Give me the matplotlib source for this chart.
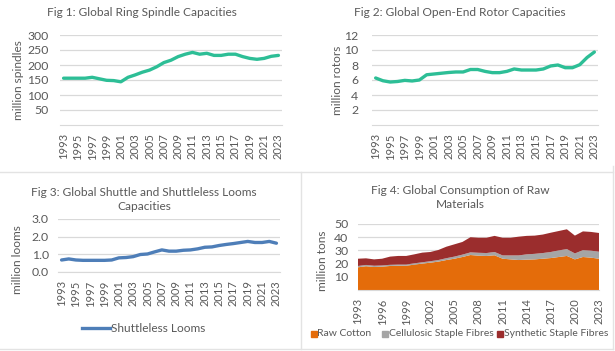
import matplotlib
matplotlib.use("Agg")
import matplotlib.pyplot as plt
from matplotlib.lines import Line2D
from matplotlib.patches import Rectangle

years = list(range(1993, 2024))

ring_spindles = [156, 156, 156, 156, 159, 154, 149, 148, 144, 159, 167, 176, 183, 194,
                 208, 216, 228, 236, 242, 236, 239, 232, 232, 236, 236, 228, 222, 219,
                 222, 229, 232]
rotors = [6.27, 5.9, 5.73, 5.8, 5.95, 5.87, 6.0, 6.7, 6.8, 6.9, 7.0, 7.07, 7.07, 7.4,
          7.4, 7.15, 6.98, 6.98, 7.15, 7.47, 7.33, 7.33, 7.33, 7.47, 7.87, 8.0, 7.64,
          7.64, 8.04, 9.0, 9.73]
shuttleless = [0.68, 0.74, 0.68, 0.66, 0.66, 0.66, 0.66, 0.68, 0.80, 0.82, 0.87, 0.99,
               1.02, 1.14, 1.25, 1.18, 1.18, 1.23, 1.25, 1.31, 1.40, 1.42, 1.50, 1.56,
               1.61, 1.67, 1.73, 1.67, 1.67, 1.73, 1.63]
raw_cotton = [17.2, 18.0, 17.4, 17.7, 18.2, 18.4, 18.4, 19.2, 20.0, 20.7, 21.5, 22.7,
              23.7, 25.0, 26.5, 26.0, 25.8, 26.3, 23.7, 23.2, 22.7, 23.0, 23.2, 23.7,
              24.2, 25.0, 25.8, 23.2, 25.0, 24.5, 23.7]
cellulosic = [1.0, 1.0, 1.0, 0.9, 0.9, 0.9, 0.9, 1.0, 1.0, 1.1, 1.2, 1.4, 1.6, 1.8,
              2.0, 2.2, 2.2, 2.5, 2.5, 3.0, 3.5, 4.0, 4.2, 4.3, 4.6, 5.0, 5.2, 4.5,
              5.2, 5.3, 5.3]
total_fibres = [23.7, 24.0, 23.2, 23.7, 25.3, 25.8, 25.8, 27.0, 28.3, 28.8, 30.3, 32.8,
                34.6, 36.4, 40.0, 39.6, 39.6, 41.0, 39.6, 39.6, 40.4, 41.0, 41.2, 42.0,
                43.4, 44.7, 46.0, 41.2, 44.4, 44.0, 43.2]
synthetic = [round(t - c - s, 2) for t, c, s in zip(total_fibres, raw_cotton, cellulosic)]
fibre_labels = ['Raw Cotton', 'Cellulosic Staple Fibres', 'Synthetic Staple Fibres']
fibre_colors = ['#E46C0A', '#A5A5A5', '#9B2D2D']

W, H = 615, 351
plt.rcParams['font.family'] = ['Lato', 'DejaVu Sans']
TXT = '#595959'
GRID = '#D9D9D9'
TITLE_FS = 8.6
TICK_FS = 8.0
YTICK_FS = 8.8
YLAB_FS = 8.6

fig = plt.figure(figsize=(W / 100, H / 100), dpi=100)


def fx(x):
    return x / W


def fy(y):
    return 1 - y / H


def add_ax(l, t, r, b):
    return fig.add_axes([l / W, 1 - b / H, (r - l) / W, (b - t) / H])


def style(ax, ylim, yticks, yfmt, xticks, xlabels, ylabel, pady):
    ax.set_ylim(*ylim)
    ax.set_yticks(yticks)
    ax.set_yticklabels([yfmt.format(v) for v in yticks])
    ax.set_xticks(xticks)
    ax.set_xticklabels(xlabels, rotation=90)
    ax.grid(axis='y', color=GRID, lw=0.9)
    ax.set_axisbelow(True)
    for s in ['top', 'right', 'left']:
        ax.spines[s].set_visible(False)
    ax.spines['bottom'].set_color(GRID)
    ax.tick_params(length=0, colors=TXT)
    ax.tick_params(axis='x', labelsize=TICK_FS, pad=6)
    ax.tick_params(axis='y', labelsize=YTICK_FS, pad=pady)
    ax.set_ylabel(ylabel, color=TXT, fontsize=YLAB_FS)


idx = list(range(len(years)))
two = idx[::2]
two_lab = [str(years[i]) for i in two]

# Fig 1
ax1 = add_ax(60, 35, 282, 125)
ax1.plot(idx, ring_spindles, color='#2DBE96', lw=2.4, solid_capstyle='round')
ax1.set_xlim(-0.5, len(years) - 0.5)
style(ax1, (0, 300), [50, 100, 150, 200, 250, 300], '{:d}', two, two_lab, 'million spindles', 8)
ax1.yaxis.set_label_coords(-36 / 222, 0.5)
fig.text(fx(142), fy(12), 'Fig 1: Global Ring Spindle Capacities', ha='center', va='center',
         color=TXT, fontsize=TITLE_FS)

# Fig 2
ax2 = add_ax(372, 35, 598, 125)
ax2.plot(idx, rotors, color='#2DBE96', lw=2.4, solid_capstyle='round')
ax2.set_xlim(-0.5, len(years) - 0.5)
style(ax2, (0, 12), [2, 4, 6, 8, 10, 12], '{:d}', two, two_lab, 'million rotors', 10)
ax2.yaxis.set_label_coords(-29 / 226, 0.5)
fig.text(fx(460), fy(12), 'Fig 2: Global Open-End Rotor Capacities', ha='center', va='center',
         color=TXT, fontsize=TITLE_FS)

# Fig 3
ax3 = add_ax(58, 219, 280, 272)
ax3.plot(idx, shuttleless, color='#4E7EB8', lw=2.4, solid_capstyle='round')
ax3.set_xlim(-0.5, len(years) - 0.5)
style(ax3, (0, 3), [0, 1, 2, 3], '{:.1f}', two, two_lab, 'million looms', 6.5)
ax3.yaxis.set_label_coords(-35 / 222, 0.23)
fig.text(fx(144), fy(199.5), 'Fig 3: Global Shuttle and Shuttleless Looms\nCapacities', ha='center',
         va='center', color=TXT, fontsize=TITLE_FS, linespacing=1.3)
fig.add_artist(Line2D([fx(82), fx(110)], [fy(328)] * 2, color='#4E7EB8', lw=2.4))
fig.text(fx(111), fy(328), 'Shuttleless Looms', ha='left', va='center', color=TXT, fontsize=8.6)

# Fig 4
ax4 = add_ax(358, 224, 599, 290)
ax4.stackplot(idx, raw_cotton, cellulosic, synthetic, colors=fibre_colors, labels=fibre_labels)
ax4.set_xlim(0, len(years) - 1)
three = idx[::3]
style(ax4, (0, 50), [10, 20, 30, 40, 50], '{:d}', three, [str(years[i]) for i in three],
      'million tons', 7)
ax4.yaxis.set_label_coords(-30 / 241, 0.44)
fig.text(fx(460), fy(197.5), 'Fig 4: Global Consumption of Raw\nMaterials', ha='center',
         va='center', color=TXT, fontsize=TITLE_FS, linespacing=1.3)
for xs, xt, lab, col in zip([311, 382, 497], [317, 389, 504], fibre_labels, fibre_colors):
    fig.add_artist(Rectangle((fx(xs), fy(336.5)), 6 / W, 6 / H, color=col))
    fig.text(fx(xt), fy(334), lab, ha='left', va='center', color=TXT, fontsize=7.5)

# panel borders
bc = '#E3E3E3'
fig.add_artist(Line2D([0, fx(613)], [fy(172)] * 2, color=bc, lw=1))
fig.add_artist(Line2D([0, fx(613)], [fy(349)] * 2, color=bc, lw=1))
fig.add_artist(Line2D([fx(301)] * 2, [fy(172), fy(349)], color=bc, lw=1))
fig.add_artist(Line2D([fx(613)] * 2, [fy(166), fy(349)], color=bc, lw=1))

fig.savefig('out.png', dpi=100)
